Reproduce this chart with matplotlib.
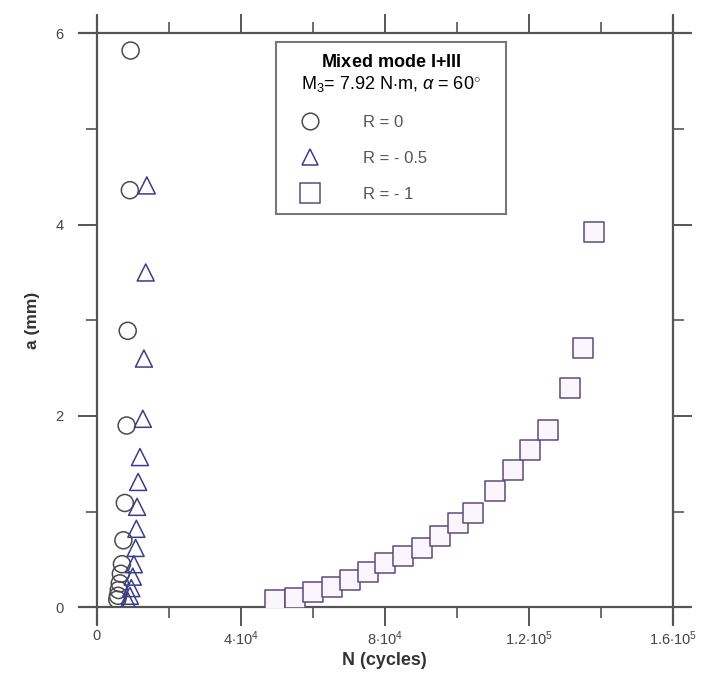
import numpy as np
import matplotlib.pyplot as plt
from matplotlib.ticker import MultipleLocator, FixedLocator, FixedFormatter
from matplotlib.lines import Line2D

plt.rcParams['font.family'] = ['Liberation Sans', 'DejaVu Sans']
plt.rcParams['mathtext.fontset'] = 'custom'
plt.rcParams['mathtext.rm'] = 'Liberation Sans'
plt.rcParams['mathtext.it'] = 'Liberation Sans:italic'
plt.rcParams['mathtext.bf'] = 'Liberation Sans:bold'

# R = 0 (circles)
n_r0 = [9400, 9200, 8600, 8300, 7800, 7400, 7000, 6700, 6400, 6100, 5900, 5700]
a_r0 = [5.82, 4.36, 2.89, 1.90, 1.09, 0.70, 0.45, 0.35, 0.25, 0.18, 0.12, 0.08]

# R = -0.5 (triangles)
n_r05 = [13900, 13600, 13100, 12800, 12000, 11500, 11200, 11000, 10800, 10300,
         10000, 9600, 9200, 8700]
a_r05 = [4.41, 3.50, 2.60, 1.97, 1.57, 1.31, 1.05, 0.82, 0.62, 0.45,
         0.32, 0.20, 0.12, 0.06]

# R = -1 (squares)
n_r1 = [49400, 55000, 60000, 65300, 70300, 75300, 80000, 85000, 90300, 95300,
        100300, 104400, 110600, 115600, 120300, 125300, 131400, 135000, 138000]
a_r1 = [0.08, 0.10, 0.16, 0.21, 0.28, 0.37, 0.46, 0.54, 0.62, 0.75,
        0.88, 0.99, 1.22, 1.43, 1.64, 1.85, 2.29, 2.71, 3.92]

xticks = [0, 40000, 80000, 120000, 160000]
xtick_labels = ['0', r'$4{\cdot}10^4$', r'$8{\cdot}10^4$', r'$1.2{\cdot}10^5$', r'$1.6{\cdot}10^5$']
yticks = [0, 2, 4, 6]

axis_col = '#555555'
c_circ = '#4a4a4a'
c_tri = '#3c3c8c'
c_sq = '#5e4a7e'

fig = plt.figure(figsize=(7.01, 6.80), dpi=100)
ax = fig.add_axes([0.138, 0.107, 0.822, 0.844])

ax.scatter(n_r0, a_r0, marker='o', s=150, facecolors='none', edgecolors=c_circ, linewidths=1.1, zorder=3)
ax.scatter(n_r05, a_r05, marker='^', s=150, facecolors='none', edgecolors=c_tri, linewidths=1.1, zorder=3)
ax.scatter(n_r1, a_r1, marker='s', s=195, facecolors='#fbf6fd', edgecolors=c_sq, linewidths=1.1, zorder=3)

ax.set_xlim(0, 160000)
ax.set_ylim(0, 6)

# frame lines that run past the corners
for s in ax.spines.values():
    s.set_visible(False)
ext = 0.03
for yv in (0, 1):
    ax.add_line(Line2D([-ext, 1 + ext], [yv, yv], transform=ax.transAxes,
                       color=axis_col, lw=1.6, clip_on=False))
for xv in (0, 1):
    ax.add_line(Line2D([xv, xv], [-ext, 1 + ext], transform=ax.transAxes,
                       color=axis_col, lw=1.6, clip_on=False))

ax.xaxis.set_major_locator(FixedLocator(xticks))
ax.xaxis.set_major_formatter(FixedFormatter(xtick_labels))
ax.xaxis.set_minor_locator(MultipleLocator(20000))
ax.yaxis.set_major_locator(FixedLocator(yticks))
ax.yaxis.set_minor_locator(MultipleLocator(1))
ax.tick_params(which='both', direction='out', color=axis_col, top=True, right=True,
               labelsize=10.5, labelcolor='#444444')
ax.tick_params(which='major', length=14, width=1.4)
ax.tick_params(which='minor', length=8, width=1.2)
ax.tick_params(axis='x', which='major', pad=2)
ax.tick_params(axis='y', which='major', pad=10)

ax.set_xlabel('N (cycles)', fontsize=13, fontweight='bold', color='#333333', labelpad=3)
ax.set_ylabel('a (mm)', fontsize=12.5, fontweight='bold', color='#333333', labelpad=11)

handles = [
    Line2D([], [], ls='none', marker='o', ms=12, mfc='none', mec=c_circ, mew=1.1),
    Line2D([], [], ls='none', marker='^', ms=12, mfc='none', mec=c_tri, mew=1.1),
    Line2D([], [], ls='none', marker='s', ms=14, mfc='none', mec=c_sq, mew=1.1),
]
labels = ['R = 0', 'R = - 0.5', 'R = - 1']
title = r'$\mathbf{Mixed\ mode\ I{+}III}$' + '\n' + r'M$_3$= 7.92 N$\cdot$m, $\alpha$ = 60$^{\circ}$'
leg = ax.legend(handles, labels, title=title, loc='upper left',
                bbox_to_anchor=(0.311, 0.985, 0.399, 0.0), mode='expand',
                fontsize=12, title_fontsize=13, frameon=True, fancybox=False,
                handletextpad=1.85, borderpad=0.75, labelspacing=1.25, handlelength=2.6,
                borderaxespad=0)
leg.get_title().set_multialignment('center')
leg.get_frame().set_edgecolor(axis_col)
leg.get_frame().set_linewidth(1.5)
for t in leg.get_texts():
    t.set_color('#555555')

fig.savefig('out.png', dpi=100, facecolor='white')
